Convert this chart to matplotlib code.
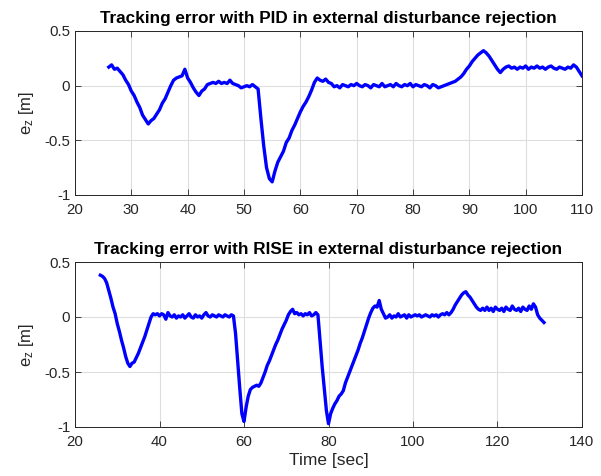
import numpy as np
import matplotlib
matplotlib.use("Agg")
import matplotlib.pyplot as plt

plt.rcParams['font.family'] = ['Liberation Sans', 'DejaVu Sans']
plt.rcParams['mathtext.fontset'] = 'custom'
plt.rcParams['mathtext.rm'] = 'Liberation Sans'
plt.rcParams['mathtext.it'] = 'Liberation Sans'

# ---- data ----
pid_t0, pid_dt = 26.0, 0.5
pid_err = [
    0.17, 0.19, 0.15, 0.16, 0.13, 0.10, 0.05, 0.01, -0.05, -0.09,
    -0.15, -0.20, -0.27, -0.31, -0.35, -0.32, -0.30, -0.26, -0.22, -0.16,
    -0.12, -0.06, 0.00, 0.05, 0.07, 0.08, 0.09, 0.15, 0.07, 0.03,
    -0.02, -0.06, -0.09, -0.05, -0.03, 0.01, 0.02, 0.03, 0.02, 0.04,
    0.02, 0.03, 0.02, 0.05, 0.02, 0.01, 0.00, -0.02, -0.01, 0.00,
    -0.01, 0.01, -0.01, -0.03, -0.30, -0.55, -0.75, -0.85, -0.88, -0.78,
    -0.70, -0.65, -0.60, -0.52, -0.48, -0.41, -0.36, -0.30, -0.24, -0.19,
    -0.15, -0.10, -0.04, 0.03, 0.07, 0.05, 0.04, 0.06, 0.03, 0.02,
    -0.01, 0.00, -0.02, 0.01, 0.00, -0.01, 0.01, 0.00, 0.02, 0.00,
    -0.01, 0.01, 0.00, -0.02, 0.01, 0.00, -0.01, 0.02, -0.01, 0.00,
    0.01, -0.01, 0.02, 0.00, -0.01, 0.01, 0.00, 0.02, -0.01, 0.01,
    0.00, -0.01, 0.01, 0.00, -0.02, 0.01, 0.00, -0.02, -0.01, 0.00,
    0.01, 0.02, 0.03, 0.04, 0.06, 0.08, 0.11, 0.15, 0.18, 0.22,
    0.25, 0.28, 0.30, 0.32, 0.30, 0.27, 0.23, 0.19, 0.15, 0.12,
    0.15, 0.17, 0.18, 0.16, 0.17, 0.15, 0.17, 0.16, 0.18, 0.15,
    0.17, 0.16, 0.18, 0.16, 0.17, 0.15, 0.17, 0.18, 0.16, 0.15,
    0.17, 0.16, 0.15, 0.17, 0.16, 0.19, 0.17, 0.13, 0.09,
]

rise_t0, rise_dt = 26.0, 0.5
rise_err = [
    0.38, 0.37, 0.35, 0.31, 0.24, 0.17, 0.09, 0.03, -0.06, -0.13,
    -0.21, -0.28, -0.36, -0.42, -0.45, -0.42, -0.41, -0.37, -0.33, -0.28,
    -0.23, -0.18, -0.12, -0.06, 0.00, 0.03, 0.02, 0.03, 0.01, 0.03,
    0.02, -0.02, 0.04, 0.01, 0.00, 0.02, -0.01, 0.01, 0.00, 0.02,
    -0.01, 0.01, 0.03, 0.00, -0.01, 0.02, 0.00, 0.01, -0.01, 0.02,
    0.04, 0.01, 0.00, 0.02, 0.01, 0.00, 0.02, 0.01, 0.00, 0.02,
    0.01, 0.00, 0.02, 0.01, -0.15, -0.40, -0.65, -0.88, -0.95, -0.82,
    -0.72, -0.66, -0.64, -0.63, -0.62, -0.63, -0.60, -0.55, -0.50, -0.44,
    -0.40, -0.35, -0.30, -0.25, -0.21, -0.16, -0.11, -0.07, -0.03, 0.02,
    0.05, 0.07, 0.03, 0.04, 0.02, 0.03, 0.01, 0.03, 0.02, 0.04,
    0.01, 0.02, 0.04, 0.02, -0.22, -0.45, -0.65, -0.85, -0.97, -0.88,
    -0.83, -0.79, -0.76, -0.72, -0.70, -0.67, -0.60, -0.55, -0.50, -0.45,
    -0.40, -0.35, -0.30, -0.24, -0.19, -0.13, -0.07, -0.01, 0.04, 0.08,
    0.10, 0.09, 0.15, 0.07, 0.03, -0.01, 0.00, 0.02, -0.01, 0.01,
    0.00, 0.03, 0.00, 0.01, 0.02, -0.01, 0.02, 0.00, 0.01, 0.02,
    0.01, 0.02, 0.00, 0.01, 0.02, 0.01, 0.00, 0.02, 0.01, 0.02,
    0.00, 0.02, 0.03, 0.02, 0.04, 0.02, 0.04, 0.07, 0.11, 0.14,
    0.17, 0.20, 0.22, 0.23, 0.20, 0.18, 0.15, 0.12, 0.09, 0.07,
    0.06, 0.08, 0.06, 0.09, 0.06, 0.08, 0.05, 0.09, 0.07, 0.06,
    0.08, 0.05, 0.09, 0.07, 0.06, 0.10, 0.07, 0.06, 0.08, 0.05,
    0.09, 0.07, 0.06, 0.10, 0.07, 0.12, 0.09, 0.02, -0.01, -0.03,
    -0.05,
]

pid_time = pid_t0 + pid_dt * np.arange(len(pid_err))
rise_time = rise_t0 + rise_dt * np.arange(len(rise_err))

titles = ["Tracking error with PID in external disturbance rejection",
          "Tracking error with RISE in external disturbance rejection"]
xlims = [(20, 110), (20, 140)]
xticks = [[20, 30, 40, 50, 60, 70, 80, 90, 100, 110],
          [20, 40, 60, 80, 100, 120, 140]]
yticks = [-1, -0.5, 0, 0.5]
ytick_labels = ["-1", "-0.5", "0", "0.5"]

fig = plt.figure(figsize=(6.01, 4.76), dpi=100)
ax1 = fig.add_axes([75/601, 1-195/476, 507/601, 164/476])
ax2 = fig.add_axes([75/601, 1-427/476, 507/601, 165/476])

dark = (0.15, 0.15, 0.15)
for ax, t, e, title, xl, xt in [(ax1, pid_time, pid_err, titles[0], xlims[0], xticks[0]),
                                (ax2, rise_time, rise_err, titles[1], xlims[1], xticks[1])]:
    ax.plot(t, e, color=(0, 0, 1), lw=2.4, solid_joinstyle='round')
    ax.set_xlim(*xl)
    ax.set_ylim(-1, 0.5)
    ax.set_xticks(xt)
    ax.set_xticklabels([str(v) for v in xt])
    ax.set_yticks(yticks)
    ax.set_yticklabels(ytick_labels)
    ax.grid(True, color=(0.87, 0.87, 0.87), lw=0.8)
    ax.set_axisbelow(True)
    ax.tick_params(direction='in', length=4, width=0.6, colors=dark,
                   labelsize=10.8, top=True, right=True, labelcolor=dark)
    ax.tick_params(axis='x', pad=6)
    for s in ax.spines.values():
        s.set_color(dark)
        s.set_linewidth(0.7)
    ax.set_title(title, fontsize=12.3, fontweight='bold', pad=6)
    ax.set_ylabel(r"$\mathregular{e_z}$ [m]", fontsize=12, color=dark, labelpad=6)

ax2.set_xlabel("Time [sec]", fontsize=12.5, color=dark, labelpad=3)

fig.savefig("out.png", dpi=100)
